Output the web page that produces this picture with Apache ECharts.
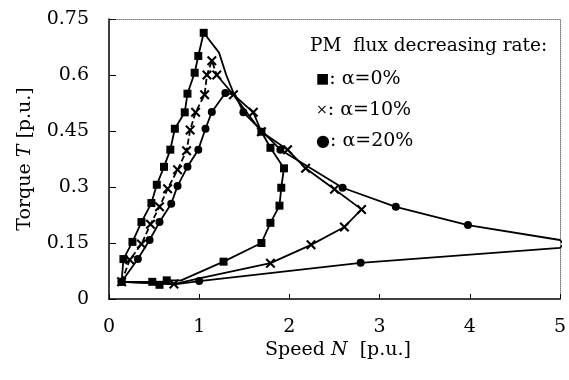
<!DOCTYPE html>
<html>
<head>
<meta charset="utf-8">
<script src="https://cdn.jsdelivr.net/npm/echarts@6/dist/echarts.min.js"></script>
<style>
  html, body { margin: 0; padding: 0; background: #fff; }
  #chart { width: 569px; height: 380px; }
</style>
</head>
<body>
<div id="chart"></div>
<script>
// speed N [p.u.], torque T [p.u.]
const alpha0 = [
  [0.14, 0.046], [0.16, 0.107], [0.26, 0.153], [0.36, 0.206], [0.47, 0.257],
  [0.53, 0.306], [0.61, 0.354], [0.68, 0.40], [0.73, 0.456], [0.84, 0.50],
  [0.87, 0.55], [0.95, 0.606], [0.99, 0.651], [1.05, 0.713],
  [1.22, 0.66], [1.30, 0.60], [1.40, 0.54], [1.69, 0.448], [1.79, 0.405],
  [1.94, 0.35], [1.91, 0.298], [1.89, 0.25], [1.79, 0.204], [1.69, 0.15],
  [1.27, 0.10], [0.80, 0.05], [0.64, 0.05], [0.56, 0.038], [0.48, 0.046], [0.14, 0.046]
]
const alpha0Bare = [14, 15, 16, 25, 29]

// alpha = 10%: rising part is dashed, the rest solid
const alpha10Rise = [
  [0.14, 0.046], [0.23, 0.105], [0.36, 0.147], [0.46, 0.20], [0.56, 0.247],
  [0.65, 0.295], [0.76, 0.346], [0.86, 0.397], [0.90, 0.453], [0.96, 0.50],
  [1.06, 0.547], [1.086, 0.60], [1.14, 0.638], [1.195, 0.60]
]
const alpha10Fall = [
  [1.195, 0.60], [1.38, 0.547], [1.60, 0.50], [1.69, 0.448], [1.98, 0.40],
  [2.18, 0.35], [2.50, 0.294], [2.80, 0.24], [2.61, 0.193], [2.24, 0.145],
  [1.79, 0.096], [1.0, 0.055], [0.72, 0.04], [0.14, 0.046]
]
const alpha10Bare = [0, 11, 13]

const alpha20 = [
  [0.14, 0.046], [0.32, 0.107], [0.45, 0.158], [0.56, 0.206], [0.69, 0.255],
  [0.76, 0.303], [0.87, 0.354], [0.99, 0.40], [1.07, 0.456], [1.14, 0.501],
  [1.29, 0.552], [1.40, 0.547], [1.49, 0.50], [1.90, 0.40], [2.59, 0.298],
  [3.18, 0.247], [3.98, 0.198], [5.0, 0.158], [5.04, 0.147], [5.0, 0.137],
  [2.79, 0.097], [1.0, 0.048], [0.75, 0.04], [0.14, 0.046]
]
const alpha20Bare = [11, 17, 18, 19, 22, 23]

const xName = 'Speed {i|N}  [p.u.]'
const yName = 'Torque {i|T} [p.u.]'
const legendTitle = 'PM  flux decreasing rate:'
const legendRows = ['{m|■}: α=0%', '{m|×}: α=10%', '{d|●}: α=20%']

const serif = 'DejaVu Serif'
const crossPath = 'path://M0,1.5L1.5,0L5,3.5L8.5,0L10,1.5L6.5,5L10,8.5L8.5,10L5,6.5L1.5,10L0,8.5L3.5,5Z'
const italic = { i: { fontStyle: 'italic', fontFamily: serif, fontSize: 19, color: '#000', fill: '#000' } }

const withBare = (pts, bare) => pts.map((p, i) => bare.includes(i) ? { value: p, symbol: 'none' } : p)

const lineSeries = (data, symbol, size, dash) => ({
  type: 'line',
  data: data,
  symbol: symbol,
  symbolSize: size,
  showAllSymbol: true,
  clip: true,
  itemStyle: { color: '#000' },
  lineStyle: { color: '#000', width: 1.8, type: dash ? [6, 3] : 'solid' },
  emphasis: { disabled: true },
  animation: false,
  z: 3
})

const chart = echarts.init(document.getElementById('chart'))

const options = {
  backgroundColor: '#fff',
  animation: false,
  grid: { left: 109, right: 4, top: 19, bottom: 81 },
  xAxis: [{
    type: 'value', min: 0, max: 5, interval: 1,
    axisLine: { show: true, onZero: false, lineStyle: { color: '#000', width: 1.5 } },
    axisTick: { show: true, inside: true, length: 5, lineStyle: { color: '#000' } },
    splitLine: { show: false },
    axisLabel: { margin: 19, color: '#000', fontFamily: serif, fontSize: 19 }
  }, {
    type: 'value', position: 'top', min: 0, max: 5,
    axisLine: { show: true, onZero: false, lineStyle: { color: '#777', type: 'dotted' } },
    axisTick: { show: false }, axisLabel: { show: false }, splitLine: { show: false }
  }],
  yAxis: [{
    type: 'value', min: 0, max: 0.75, interval: 0.15,
    axisLine: { show: true, onZero: false, lineStyle: { color: '#000', width: 1.5 } },
    axisTick: { show: true, inside: true, length: 7, lineStyle: { color: '#000' } },
    splitLine: { show: false },
    axisLabel: { margin: 20, color: '#000', fontFamily: serif, fontSize: 19 },
    name: yName,
    nameLocation: 'middle',
    nameGap: 74,
    nameTextStyle: { color: '#000', fontFamily: serif, fontSize: 19, rich: italic }
  }, {
    type: 'value', position: 'right', min: 0, max: 0.75,
    axisLine: { show: true, onZero: false, lineStyle: { color: '#777', type: 'dotted' } },
    axisTick: { show: false }, axisLabel: { show: false }, splitLine: { show: false }
  }],
  graphic: [
    {
      type: 'text', x: 338, y: 350,
      style: {
        text: xName, fill: '#000', font: '19px "DejaVu Serif"',
        align: 'center', verticalAlign: 'middle', rich: italic
      }
    },
    {
      type: 'text', left: 310, top: 37,
      style: { text: legendTitle, fill: '#000', font: '18.5px "DejaVu Serif"' }
    },
    ...legendRows.map((t, i) => ({
      type: 'text', left: 316, top: 70 + i * 31,
      style: {
        text: t, fill: '#000', font: '19px "DejaVu Serif"',
        rich: {
          m: { fontSize: 14, fontFamily: 'DejaVu Sans', fill: '#000' },
          d: { fontSize: 16, fontFamily: 'DejaVu Sans', fill: '#000' }
        }
      }
    }))
  ],
  series: [
    lineSeries(withBare(alpha0, alpha0Bare), 'rect', 8, false),
    lineSeries(alpha10Rise, crossPath, 10, true),
    lineSeries(withBare(alpha10Fall, alpha10Bare), crossPath, 10, false),
    lineSeries(withBare(alpha20, alpha20Bare), 'circle', 8, false)
  ]
}

chart.setOption(options)
</script>
</body>
</html>
